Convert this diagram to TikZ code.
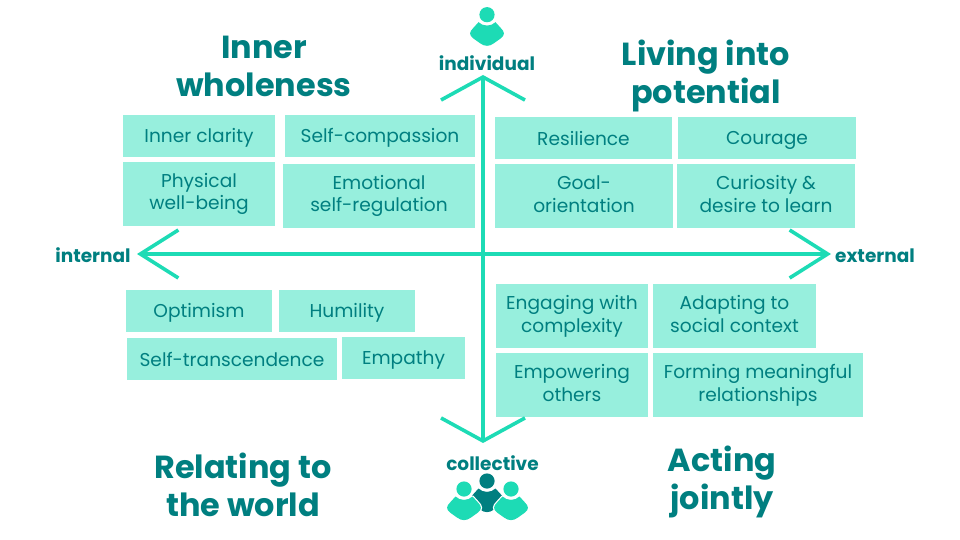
\documentclass[tikz,border=0pt]{standalone}
\usepackage{fontspec}
\usepackage{xcolor}
\usetikzlibrary{arrows.meta}
\setmainfont{Poppins}
\definecolor{darkteal}{HTML}{007F80}
\definecolor{axisgreen}{HTML}{1DDBB5}
\definecolor{boxgreen}{HTML}{97EFDD}
\newcommand{\boxstrut}{\rule[-4.3pt]{0pt}{22.8pt}}
\newcommand{\tallstrut}{\rule{0pt}{22pt}}
\tikzset{
    infobox/.style={fill=boxgreen,text=darkteal,align=center,inner sep=0pt,font=\fontsize{18.6}{22.8}\selectfont,
        execute at begin node=\boxstrut,execute at end node=\boxstrut},
    twolines/.style={infobox,minimum height=64pt,execute at begin node=\tallstrut},
    quadtitle/.style={text=darkteal,align=center,inner sep=0pt,font=\fontsize{31.9}{38}\selectfont\bfseries,
        execute at begin node=\strut,execute at end node=\strut},
    axislabel/.style={text=darkteal,inner sep=0pt,font=\fontsize{18.5}{22}\selectfont\bfseries,
        execute at begin node=\strut},
    vaxis/.style={draw=axisgreen,line width=3.6pt,{Straight Barb[length=23pt,width=84pt,line width=3.6pt]}-{Straight Barb[length=23pt,width=84pt,line width=3.6pt]}},
    haxis/.style={draw=axisgreen,line width=3.6pt,{Straight Barb[length=38pt,width=48pt,line width=3.6pt]}-{Straight Barb[length=38pt,width=48pt,line width=3.6pt]}},
    halo/.style={preaction={draw=white,line width=2.4pt,line join=round}},
    pics/person/.style={code={
        \fill[#1,halo] (0,0) circle [radius=7.6];
        \fill[#1,halo] (-8.5,7.5) .. controls (-4,12) and (4,12) .. (8.5,7.5)
            -- (13.5,13) .. controls (18,17.5) and (18,20) .. (14,23.5)
            -- (7,28.5) .. controls (2.5,32) and (-2.5,32) .. (-7,28.5)
            -- (-14,23.5) .. controls (-18,20) and (-18,17.5) .. (-13.5,13) -- cycle;
    }}
}
\begin{document}
\begin{tikzpicture}[x=1pt,y=-1pt]
    \useasboundingbox (0,0) rectangle (960,540);

    % titles
    \node[quadtitle] (innertitle) at (264,72) {Inner\\wholeness};
    \node[quadtitle] (livingtitle) at (706,77) {Living into\\potential};
    \node[quadtitle] (relatingtitle) at (243,490) {Relating to\\the world};
    \node[quadtitle] (actingtitle) at (722,483.5) {Acting\\jointly};

    % inner wholeness
    \node[infobox,minimum width=152pt,minimum height=42pt] (innerclarity) at (199,136) {Inner clarity};
    \node[infobox,minimum width=190pt,minimum height=42pt] (selfcompassion) at (380,136) {Self-compassion};
    \node[twolines,minimum width=152pt] (physical) at (199,194) {Physical\\well-being};
    \node[twolines,minimum width=192pt] (emotional) at (379,196) {Emotional\\self-regulation};

    % living into potential
    \node[infobox,minimum width=177pt,minimum height=42pt] (resilience) at (583.5,138) {Resilience};
    \node[infobox,minimum width=178pt,minimum height=42pt] (courage) at (767,138) {Courage};
    \node[twolines,minimum width=178pt] (goal) at (584,196) {Goal-\\orientation};
    \node[twolines,minimum width=178pt] (curiosity) at (766,196) {Curiosity \&\\desire to learn};

    % relating to the world
    \node[infobox,minimum width=146pt,minimum height=42pt] (optimism) at (199,311) {Optimism};
    \node[infobox,minimum width=136pt,minimum height=42pt] (humility) at (347,311) {Humility};
    \node[infobox,minimum width=210pt,minimum height=42pt] (transcendence) at (232,359) {Self-transcendence};
    \node[infobox,minimum width=123pt,minimum height=42pt] (empathy) at (403.5,358) {Empathy};

    % acting jointly
    \node[twolines,minimum width=152pt] (engaging) at (572,316) {Engaging with\\complexity};
    \node[twolines,minimum width=163pt] (adapting) at (734.5,316) {Adapting to\\social context};
    \node[twolines,minimum width=152pt] (empowering) at (572,385) {Empowering\\others};
    \node[twolines,minimum width=210pt] (forming) at (758,385) {Forming meaningful\\relationships};

    % axes
    \coordinate (top) at (483,75);
    \coordinate (bottom) at (483,443);
    \coordinate (left) at (137,254);
    \coordinate (right) at (831,254);
    \draw[vaxis] (top) -- (bottom);
    \draw[haxis] (left) -- (right);

    \node[axislabel] (individual) at (487,65.7) {individual};
    \node[axislabel] (collective) at (492.5,466.2) {collective};
    \node[axislabel] (internal) at (93,257.7) {internal};
    \node[axislabel] (external) at (875,257.7) {external};

    % icons
    \pic at (487,14.7) {person=axisgreen};
    \pic at (487,481) {person=darkteal};
    \pic at (464,489) {person=axisgreen};
    \pic at (511,489) {person=axisgreen};
\end{tikzpicture}
\end{document}
